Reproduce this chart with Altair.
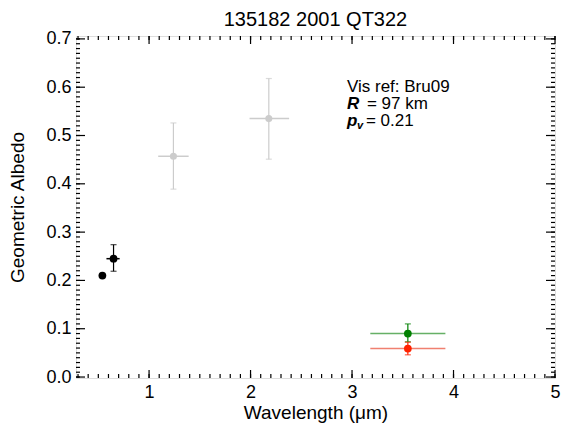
import altair as alt
import pandas as pd

# data
names = ["V", "R", "J", "K", "W1", "W2"]
wave = [0.54, 0.65, 1.24, 2.18, 3.55, 3.55]
albedo = [0.210, 0.245, 0.457, 0.535, 0.090, 0.059]
wave_lo = [0.54, 0.58, 1.09, 1.99, 3.18, 3.18]
wave_hi = [0.54, 0.71, 1.39, 2.38, 3.92, 3.92]
alb_lo = [0.210, 0.219, 0.389, 0.451, 0.073, 0.046]
alb_hi = [0.210, 0.274, 0.526, 0.618, 0.110, 0.072]
dot_color = ["#000000", "#000000", "#cccccc", "#cccccc", "#008000", "#ff2200"]
line_color = ["#000000", "#000000", "#cccccc", "#cccccc", "#66b066", "#f08070"]
dot_size = [60, 60, 50, 50, 60, 60]
has_err = [False, True, True, True, True, True]

x_major = [1, 2, 3, 4, 5]
x_minor = [round(0.3 + 0.1 * i, 2) for i in range(48)]
y_major = [0.0, 0.1, 0.2, 0.3, 0.4, 0.5, 0.6, 0.7]
y_minor = [round(0.01 * i, 2) for i in range(71)]

X_DOMAIN = [0.28, 5.0]
Y_DOMAIN = [-0.002, 0.706]
W, H = 479, 342
FONT = "Liberation Sans"

df = pd.DataFrame({
    "name": names, "x": wave, "y": albedo, "xlo": wave_lo, "xhi": wave_hi,
    "ylo": alb_lo, "yhi": alb_hi, "dc": dot_color, "lc": line_color,
    "size": dot_size, "err": has_err,
})
err = df[df["err"]]

xs = alt.Scale(domain=X_DOMAIN, nice=False, zero=False)
ys = alt.Scale(domain=Y_DOMAIN, nice=False, zero=False)

xaxis = alt.Axis(values=x_major, format="d", ticks=False, domain=False, grid=False,
                 labelFontSize=18, labelPadding=5, labelFont=FONT, labelColor="black",
                 title="Wavelength (\u03bcm)", titleFontSize=19, titleFontWeight="normal",
                 titleFont=FONT, titlePadding=2, titleColor="black", labelFlush=False)
yaxis = alt.Axis(values=y_major, format=".1f", ticks=False, domain=False, grid=False,
                 labelFontSize=18, labelPadding=5, labelFont=FONT, labelColor="black",
                 title="Geometric Albedo", titleFontSize=19, titleFontWeight="normal",
                 titleFont=FONT, titlePadding=18, titleColor="black")

base = alt.Chart(err)

hbar = base.mark_rule(strokeWidth=1.5).encode(
    x=alt.X("xlo:Q", scale=xs, axis=xaxis), x2="xhi:Q",
    y=alt.Y("y:Q", scale=ys, axis=yaxis),
    color=alt.Color("lc:N", scale=None))
vbar = base.mark_rule(strokeWidth=1.2).encode(
    x=alt.X("x:Q", scale=xs), y=alt.Y("ylo:Q", scale=ys), y2="yhi:Q",
    color=alt.Color("dc:N", scale=None))
cap_lo = base.mark_tick(orient="horizontal", size=6, thickness=1.2).encode(
    x=alt.X("x:Q", scale=xs), y=alt.Y("ylo:Q", scale=ys), color=alt.Color("dc:N", scale=None))
cap_hi = base.mark_tick(orient="horizontal", size=6, thickness=1.2).encode(
    x=alt.X("x:Q", scale=xs), y=alt.Y("yhi:Q", scale=ys), color=alt.Color("dc:N", scale=None))
dots = alt.Chart(df).mark_circle(opacity=1).encode(
    x=alt.X("x:Q", scale=xs), y=alt.Y("y:Q", scale=ys),
    color=alt.Color("dc:N", scale=None), size=alt.Size("size:Q", scale=None))

# inward ticks
xmaj = pd.DataFrame({"v": x_major})
xmin_ = pd.DataFrame({"v": x_minor})
ymaj = pd.DataFrame({"v": y_major})
ymin_ = pd.DataFrame({"v": y_minor})

def xticks(d, L):
    b = alt.Chart(d).mark_rule(color="black", strokeWidth=1.2)
    return (b.encode(x=alt.X("v:Q", scale=xs), y=alt.value(H), y2=alt.value(H - L)) +
            b.encode(x=alt.X("v:Q", scale=xs), y=alt.value(0), y2=alt.value(L)))

def yticks(d, L):
    b = alt.Chart(d).mark_rule(color="black", strokeWidth=1.2)
    return (b.encode(y=alt.Y("v:Q", scale=ys), x=alt.value(0), x2=alt.value(L)) +
            b.encode(y=alt.Y("v:Q", scale=ys), x=alt.value(W), x2=alt.value(W - L)))

ticks = xticks(xmaj, 8) + xticks(xmin_, 4) + yticks(ymaj, 9) + yticks(ymin_, 4)

# annotation
ann_x = [2.95]
ann = pd.DataFrame({"x": ann_x})
def txt(s, y, dx=0, bold=False, italic=False, size=17, dy=0):
    return alt.Chart(ann).mark_text(
        text=s, align="left", baseline="alphabetic", fontSize=size, font=FONT,
        fontWeight="bold" if bold else "normal", fontStyle="italic" if italic else "normal",
        dx=dx, dy=dy, color="black").encode(x=alt.X("x:Q", scale=xs), y=alt.value(y))

annot = (txt("Vis ref: Bru09", 56) +
         txt("R", 73, bold=True, italic=True) + txt("= 97 km", 73, dx=20) +
         txt("p", 90, bold=True, italic=True) + txt("v", 90, dx=10, dy=3, bold=True, italic=True, size=11)
         + txt("= 0.21", 90, dx=19))

chart = alt.layer(hbar, vbar, cap_lo, cap_hi, dots, ticks, annot).properties(
    width=W, height=H,
    title=alt.TitleParams("135182 2001 QT322", fontSize=20, fontWeight="normal", font=FONT,
                          color="black", anchor="middle", offset=0),
    autosize=alt.AutoSizeParams(type="none"),
    padding={"left": 76, "top": 36, "right": 6, "bottom": 59},
).configure_view(stroke="black", strokeWidth=1.5).configure(background="white")

chart.save("out.html", embed_options={"renderer": "svg", "actions": False})
